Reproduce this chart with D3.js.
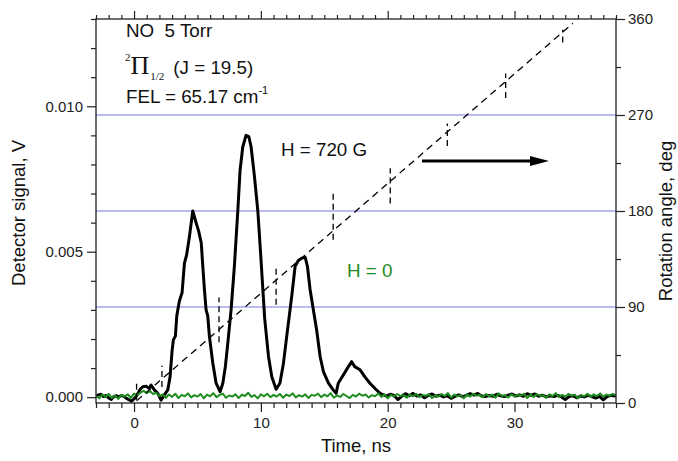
<!DOCTYPE html>
<html>
<head>
<meta charset="utf-8">
<script src="https://cdn.jsdelivr.net/npm/d3@7"></script>
<style>
  html, body { margin: 0; padding: 0; background: #fff; }
  svg { display: block; font-family: "Liberation Sans", Arial, sans-serif; }
</style>
</head>
<body>
<svg id="chart" width="678" height="461"></svg>
<script>
// Detector signal with field on (H = 720 G), sampled as [time ns, signal V]
const signalH720 = [
  [-3.0, 0.00003], [-2.8, 0.00008], [-2.6, 0.00010], [-2.4, 0.00002], [-2.2, 0.00006],
  [-2.0, -0.00003], [-1.8, -0.00008], [-1.6, 0.00002], [-1.4, 0.00005], [-1.2, 0.00001],
  [-1.0, 0.00006], [-0.8, 0.00003], [-0.6, -0.00004], [-0.4, -0.00009], [-0.2, -0.00014],
  [0.0, -0.00006], [0.15, 0.00002], [0.3, 0.00013], [0.5, 0.00028], [0.69, 0.00036],
  [0.95, 0.00038], [1.2, 0.00030], [1.34, 0.00042], [1.6, 0.00025], [1.87, 0.00013],
  [2.13, -0.00010], [2.39, 0.00008], [2.66, 0.00025], [2.84, 0.00070], [3.0, 0.00160],
  [3.1, 0.00197], [3.26, 0.00210], [3.37, 0.00280], [3.57, 0.00330], [3.79, 0.00360],
  [3.97, 0.00460], [4.15, 0.00490], [4.36, 0.00550], [4.63, 0.00640], [4.89, 0.00600],
  [5.1, 0.00570], [5.3, 0.00530], [5.42, 0.00450], [5.55, 0.00370], [5.68, 0.00300],
  [5.81, 0.00280], [5.94, 0.00210], [6.2, 0.00120], [6.47, 0.00048], [6.78, 0.00019],
  [7.0, 0.00048], [7.2, 0.00105], [7.39, 0.00185], [7.65, 0.00300], [7.91, 0.00450],
  [8.18, 0.00640], [8.36, 0.00780], [8.57, 0.00860], [8.83, 0.00900], [9.05, 0.00896],
  [9.23, 0.00860], [9.49, 0.00760], [9.76, 0.00640], [10.0, 0.00480], [10.3, 0.00270],
  [10.6, 0.00140], [10.86, 0.00070], [11.2, 0.00027], [11.5, 0.00048], [11.78, 0.00117],
  [12.04, 0.00210], [12.44, 0.00350], [12.7, 0.00450], [12.96, 0.00470], [13.22, 0.00478],
  [13.5, 0.00480], [13.67, 0.00450], [13.88, 0.00370], [14.14, 0.00300], [14.4, 0.00230],
  [14.67, 0.00140], [14.93, 0.00088], [15.33, 0.00048], [15.7, 0.00025], [15.93, 0.00013],
  [16.1, 0.00048], [16.5, 0.00076], [16.9, 0.00105], [17.16, 0.00122], [17.4, 0.00105],
  [17.82, 0.00094], [18.2, 0.00070], [18.6, 0.00048], [19.0, 0.00030], [19.4, 0.00013],
  [19.66, 0.00008], [19.9, 0.00004], [20.2, 0.00010], [20.5, 0.00006], [20.8, -0.00008],
  [21.1, 0.00003], [21.4, 0.00012], [21.7, 0.00005], [22.0, 0.00013], [22.3, 0.00004],
  [22.6, 0.00008], [22.9, -0.00002], [23.2, 0.00006], [23.5, 0.00011], [23.8, 0.00003],
  [24.1, 0.00007], [24.4, 0.00001], [24.7, 0.00005], [25.0, -0.00004], [25.3, 0.00003],
  [25.6, 0.00008], [25.9, 0.00002], [26.2, 0.00006], [26.5, 0.00012], [26.8, 0.00007],
  [27.1, 0.00013], [27.4, 0.00004], [27.7, 0.00002], [28.0, 0.00006], [28.3, 0.00003],
  [28.6, 0.00010], [28.9, 0.00005], [29.2, 0.00002], [29.5, 0.00007], [29.8, 0.00011],
  [30.1, 0.00004], [30.4, 0.00008], [30.7, 0.00003], [31.0, 0.00012], [31.3, 0.00006],
  [31.6, 0.00011], [31.9, 0.00003], [32.2, 0.00007], [32.5, 0.00001], [32.8, 0.00005],
  [33.1, 0.00002], [33.4, 0.00006], [33.7, 0.00001], [34.0, -0.00008], [34.3, 0.00002],
  [34.6, 0.00005], [34.9, -0.00002], [35.2, 0.00004], [35.5, 0.00001], [35.8, 0.00006],
  [36.1, 0.00002], [36.4, -0.00003], [36.7, 0.00003], [37.0, -0.00009], [37.3, 0.00002],
  [37.6, 0.00006], [38.0, 0.00004]
];

// Detector signal with no field (H = 0): one reading every 0.25 ns from -3 ns
const signalH0Start = -3;
const signalH0Step = 0.25;
const signalH0 = [
  0.00005, -0.00004, 0.00009, 0.00001, 0.00011, -0.00003, 0.00006, -0.00006, 0.00008, 0.00002,
  0.00010, -0.00002, 0.00012, 0.00006, 0.00016, 0.00022, 0.00014, 0.00021, 0.00011, 0.00015,
  0.00004, 0.00010, -0.00002, 0.00009, 0.00001, 0.00012, -0.00003, 0.00008, 0.00003, 0.00013,
  -0.00001, 0.00007, 0.00002, 0.00011, -0.00004, 0.00009, 0.00003, 0.00014, 0.00000, 0.00008,
  0.00012, -0.00002, 0.00006, 0.00002, 0.00010, -0.00003, 0.00009, 0.00004, 0.00015, 0.00001,
  0.00007, -0.00004, 0.00010, 0.00003, 0.00012, 0.00000, 0.00008, 0.00002, 0.00011, -0.00002,
  0.00009, 0.00004, 0.00013, -0.00001, 0.00007, 0.00002, 0.00010, -0.00003, 0.00008, 0.00005,
  0.00012, 0.00000, 0.00009, 0.00003, 0.00014, -0.00002, 0.00006, 0.00001, 0.00011, 0.00004,
  -0.00003, 0.00008, 0.00002, 0.00012, 0.00005, 0.00009, -0.00001, 0.00007, 0.00003, 0.00013,
  0.00001, 0.00010, -0.00004, 0.00008, 0.00002, 0.00011, 0.00004, 0.00007, -0.00002, 0.00009,
  0.00003, 0.00012, 0.00000, 0.00008, 0.00005, 0.00010, -0.00003, 0.00006, 0.00002, 0.00011,
  0.00004, 0.00014, -0.00001, 0.00009, 0.00003, 0.00007, -0.00004, 0.00010, 0.00002, 0.00012,
  0.00005, 0.00008, 0.00000, 0.00011, 0.00003, 0.00009, -0.00002, 0.00013, 0.00004, 0.00007,
  -0.00001, 0.00010, 0.00002, 0.00008, 0.00005, 0.00012, -0.00003, 0.00009, 0.00001, 0.00011,
  0.00004, 0.00007, -0.00002, 0.00010, 0.00003, 0.00014, 0.00000, 0.00008, 0.00002, 0.00011,
  0.00005, 0.00009, -0.00004, 0.00007, 0.00003, 0.00012, 0.00001, 0.00010, 0.00004, 0.00013,
  0.00002, 0.00009, 0.00005, 0.00011, 0.00006
];

// Rotation angle fit (time ns, angle deg) and measured angle ranges
const rotationFit = [[0.2, 2], [34.6, 356]];
const rangeTimes = [0.2, 2.2, 6.7, 11.2, 15.7, 20.2, 24.7, 29.3, 33.8];
const rangeLow   = [3, 15, 57, 92, 153, 187, 241, 286, 338];
const rangeHigh  = [19, 35, 99, 126, 197, 220, 262, 309, 350];

// Reference angles marked across the plot
const referenceAngles = [90, 180, 270];

// Tick values
const timeMajor = [0, 10, 20, 30];
const timeMinor = d3.range(-3, 39, 1).filter(v => v % 10 !== 0);
const signalMajor = [0.000, 0.005, 0.010];
const signalMinor = [0.001, 0.002, 0.003, 0.004, 0.006, 0.007, 0.008, 0.009, 0.011, 0.012, 0.013];
const angleMajor = [0, 90, 180, 270, 360];
const angleMinor = [45, 135, 225, 315];

const svg = d3.select("#chart");
const L = 96, R = 616, T = 19, B = 403;

const x = d3.scaleLinear().domain([-3, 38]).range([L, R]);
const y = d3.scaleLinear().domain([-0.0002, 0.013]).range([B, T]);
const yAngle = d3.scaleLinear().domain([0, 360]).range([B, T]);

const axisColor = "#222";
const tickFont = "15px";
const green = "#1e8c1e";

// Reference angle lines
svg.append("g").selectAll("line").data(referenceAngles).join("line")
  .attr("x1", L).attr("x2", R)
  .attr("y1", d => yAngle(d)).attr("y2", d => yAngle(d))
  .attr("stroke", "#7676ec").attr("stroke-width", 1.2);

// Clip for data traces
svg.append("clipPath").attr("id", "plot-clip")
  .append("rect").attr("x", L).attr("y", T).attr("width", R - L).attr("height", B - T);

const plot = svg.append("g").attr("clip-path", "url(#plot-clip)");

// Field-on trace
const lineSig = d3.line().x(d => x(d[0])).y(d => y(d[1]));
plot.append("path").datum(signalH720)
  .attr("d", lineSig).attr("fill", "none")
  .attr("stroke", "#000").attr("stroke-width", 3).attr("stroke-linejoin", "round");

// No-field trace
const lineH0 = d3.line()
  .x((d, i) => x(signalH0Start + i * signalH0Step))
  .y(d => y(d));
plot.append("path").datum(signalH0)
  .attr("d", lineH0).attr("fill", "none")
  .attr("stroke", green).attr("stroke-width", 2).attr("stroke-linejoin", "round");

// Rotation fit line (dashed)
const lineFit = d3.line().x(d => x(d[0])).y(d => yAngle(d[1]));
plot.append("path").datum(rotationFit)
  .attr("d", lineFit).attr("fill", "none")
  .attr("stroke", "#000").attr("stroke-width", 1.3).attr("stroke-dasharray", "7,5");

// Measured angle ranges (dashed vertical bars)
plot.append("g").selectAll("line").data(rangeTimes).join("line")
  .attr("x1", d => x(d)).attr("x2", d => x(d))
  .attr("y1", (d, i) => yAngle(rangeLow[i])).attr("y2", (d, i) => yAngle(rangeHigh[i]))
  .attr("stroke", "#000").attr("stroke-width", 1.3).attr("stroke-dasharray", "6,4");

// Axes
function styleAxis(g, labels) {
  g.select(".domain").remove();
  g.selectAll(".tick line").attr("stroke", axisColor).attr("stroke-width", 1.2);
  g.selectAll(".tick text").attr("fill", axisColor).style("font-size", tickFont);
  if (!labels) g.selectAll(".tick text").remove();
}

// bottom
svg.append("g").attr("transform", `translate(0,${B})`)
  .call(d3.axisBottom(x).tickValues(timeMajor).tickSize(9).tickPadding(5).tickFormat(d3.format("d")))
  .call(g => styleAxis(g, true));
svg.append("g").attr("transform", `translate(0,${B})`)
  .call(d3.axisBottom(x).tickValues(timeMinor).tickSize(5))
  .call(g => styleAxis(g, false));
// top
svg.append("g").attr("transform", `translate(0,${T})`)
  .call(d3.axisTop(x).tickValues(timeMajor).tickSize(8))
  .call(g => styleAxis(g, false));
svg.append("g").attr("transform", `translate(0,${T})`)
  .call(d3.axisTop(x).tickValues(timeMinor).tickSize(4))
  .call(g => styleAxis(g, false));
// left
svg.append("g").attr("transform", `translate(${L},0)`)
  .call(d3.axisLeft(y).tickValues(signalMajor).tickSize(9).tickPadding(4).tickFormat(d3.format(".3f")))
  .call(g => styleAxis(g, true));
svg.append("g").attr("transform", `translate(${L},0)`)
  .call(d3.axisLeft(y).tickValues(signalMinor).tickSize(5))
  .call(g => styleAxis(g, false));
// right
svg.append("g").attr("transform", `translate(${R},0)`)
  .call(d3.axisRight(yAngle).tickValues(angleMajor).tickSize(9).tickPadding(3).tickFormat(d3.format("d")))
  .call(g => styleAxis(g, true));
svg.append("g").attr("transform", `translate(${R},0)`)
  .call(d3.axisRight(yAngle).tickValues(angleMinor).tickSize(5))
  .call(g => styleAxis(g, false));

// Frame
svg.append("rect").attr("x", L).attr("y", T).attr("width", R - L).attr("height", B - T)
  .attr("fill", "none").attr("stroke", axisColor).attr("stroke-width", 1.3);

// Axis titles
svg.append("text").attr("x", 356).attr("y", 452)
  .attr("text-anchor", "middle").style("font-size", "18.5px").attr("fill", "#111")
  .text("Time, ns");
svg.append("text").attr("transform", "translate(25,213) rotate(-90)")
  .attr("text-anchor", "middle").style("font-size", "18.5px").attr("fill", "#111")
  .text("Detector signal, V");
svg.append("text").attr("transform", "translate(672,221) rotate(-90)")
  .attr("text-anchor", "middle").style("font-size", "18.5px").attr("fill", "#111")
  .text("Rotation angle, deg");

// Annotations
const ann = svg.append("g").attr("fill", "#111").style("font-size", "18.8px");
ann.append("text").attr("x", 126).attr("y", 37).attr("xml:space", "preserve").text("NO  5 Torr");

const serif = "'Liberation Serif', 'Times New Roman', serif";
const term = ann.append("text").attr("x", 125).attr("y", 74);
term.append("tspan").attr("dy", -13).style("font-size", "11px")
  .style("font-family", serif).text("2");
term.append("tspan").attr("dy", 13).style("font-size", "26px")
  .style("font-family", serif).text("\u03A0");
term.append("tspan").attr("dy", 6).attr("dx", 1).style("font-size", "11px")
  .style("font-family", serif).text("1/2");
term.append("tspan").attr("dy", -6).attr("dx", 9).text("(J = 19.5)");

const fel = ann.append("text").attr("x", 126).attr("y", 103);
fel.append("tspan").text("FEL = 65.17 cm");
fel.append("tspan").attr("dy", -9).style("font-size", "11px").text("-1");

ann.append("text").attr("x", 281).attr("y", 156).text("H = 720 G");
svg.append("text").attr("x", 347).attr("y", 277).style("font-size", "18.8px")
  .attr("fill", green).text("H = 0");

// Arrow
svg.append("line").attr("x1", 422).attr("x2", 534).attr("y1", 161).attr("y2", 161)
  .attr("stroke", "#000").attr("stroke-width", 3);
svg.append("path").attr("d", "M530,156 L549,161 L530,166 Z").attr("fill", "#000");
</script>
</body>
</html>
